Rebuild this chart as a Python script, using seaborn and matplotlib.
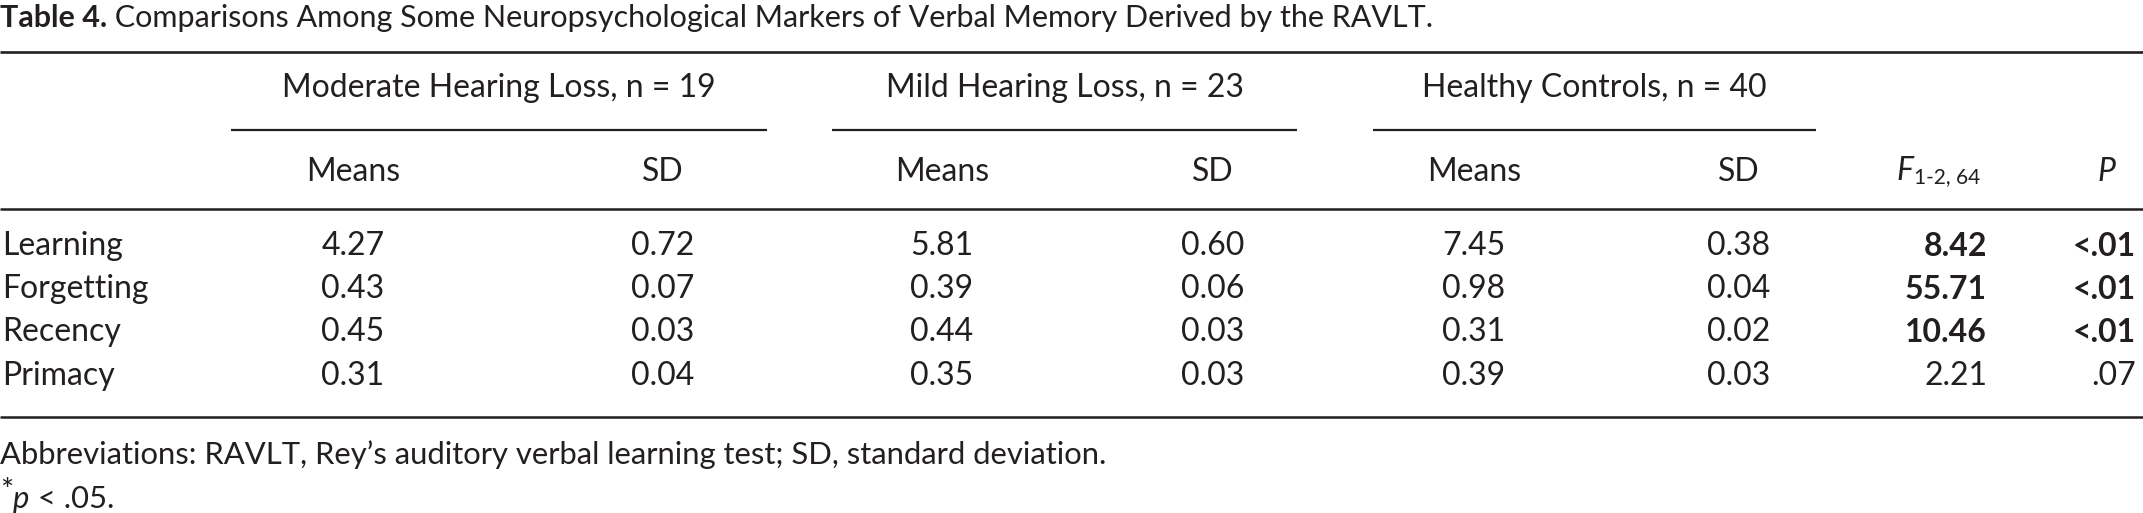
import matplotlib
matplotlib.use("Agg")
import matplotlib.pyplot as plt
import pandas as pd
import seaborn as sns

title_bold = "Table 4."
title_text = " Comparisons Among Some Neuropsychological Markers of Verbal Memory Derived by the RAVLT."

groups = ["Moderate Hearing Loss, n = 19", "Mild Hearing Loss, n = 23", "Healthy Controls, n = 40"]
measures = ["Learning", "Forgetting", "Recency", "Primacy"]

moderate_means = [4.27, 0.43, 0.45, 0.31]
moderate_sd = [0.72, 0.07, 0.03, 0.04]
mild_means = [5.81, 0.39, 0.44, 0.35]
mild_sd = [0.60, 0.06, 0.03, 0.03]
healthy_means = [7.45, 0.98, 0.31, 0.39]
healthy_sd = [0.38, 0.04, 0.02, 0.03]
f_values = [8.42, 55.71, 10.46, 2.21]
p_values = ["<.01", "<.01", "<.01", ".07"]
significant = [True, True, True, False]

footnote = "Abbreviations: RAVLT, Rey\u2019s auditory verbal learning test; SD, standard deviation."

table = pd.DataFrame({
    "measure": measures,
    "mod_m": moderate_means, "mod_sd": moderate_sd,
    "mild_m": mild_means, "mild_sd": mild_sd,
    "hc_m": healthy_means, "hc_sd": healthy_sd,
    "F": f_values, "P": p_values, "sig": significant,
})

sns.set_theme(style="white")
plt.rcParams["font.family"] = ["Lato", "DejaVu Sans"]

INK = "#231f20"
FS = 23
FS_NOTE = 22.3
W, H = 2143, 513

fig = plt.figure(figsize=(W / 100, H / 100), dpi=100)
ax = fig.add_axes([0, 0, 1, 1])
ax.set_xlim(0, W)
ax.set_ylim(H, 0)
ax.axis("off")

# title
t = ax.text(0, 27, title_bold, fontsize=22, weight="bold", color=INK, va="baseline")
ax.annotate(title_text, xy=(1, 0), xycoords=t, va="bottom", ha="left",
            fontsize=22, color=INK)

# rules
ax.hlines([52], 0, W, color=INK, lw=1.9)
ax.hlines([209], 0, W, color=INK, lw=1.8)
ax.hlines([417], 0, W, color=INK, lw=1.8)

group_spans = [(231, 767), (832, 1297), (1373, 1816)]
for name, (x0, x1) in zip(groups, group_spans):
    ax.text((x0 + x1) / 2, 88, name, fontsize=FS, color=INK, ha="center", va="center")
    ax.hlines(130, x0, x1, color=INK, lw=1.6)

col_x = [353, 663, 942, 1213, 1474, 1739]
for x, lab in zip(col_x, ["Means", "SD"] * 3):
    ax.text(x, 172, lab, fontsize=FS, color=INK, ha="center", va="center")

f_hdr = ax.text(1896, 180, "F", fontsize=FS, style="italic", color=INK, ha="left", va="baseline")
ax.annotate("1-2, 64", xy=(1, 0), xycoords=f_hdr, xytext=(1, -1), textcoords="offset points",
            fontsize=15, color=INK, ha="left", va="bottom")
ax.text(2106, 172, "P", fontsize=FS, style="italic", color=INK, ha="center", va="center")

value_cols = ["mod_m", "mod_sd", "mild_m", "mild_sd", "hc_m", "hc_sd"]
for i, row in table.iterrows():
    y = 246 + i * 43.2
    ax.text(2, y, row["measure"], fontsize=FS, color=INK, ha="left", va="center")
    for x, c in zip(col_x, value_cols):
        ax.text(x, y, f"{row[c]:.2f}", fontsize=FS, color=INK, ha="center", va="center")
    w = "bold" if row["sig"] else "normal"
    ax.text(1987, y, f"{row['F']:.2f}", fontsize=FS, weight=w, color=INK, ha="right", va="center")
    ax.text(2136, y, row["P"], fontsize=FS, weight=w, color=INK, ha="right", va="center")

# footnotes
ax.text(0, 455, footnote, fontsize=FS_NOTE, color=INK, ha="left", va="center")
star = ax.text(0, 500, "*", fontsize=FS_NOTE, color=INK, ha="left", va="baseline")
pp = ax.annotate("p", xy=(1, 0), xycoords=star, xytext=(0, -6), textcoords="offset points",
                 fontsize=FS_NOTE, style="italic", color=INK, va="bottom")
ax.annotate(" < .05.", xy=(1, 0), xycoords=pp, va="bottom", fontsize=FS_NOTE, color=INK)

fig.savefig("out.png", dpi=100)
